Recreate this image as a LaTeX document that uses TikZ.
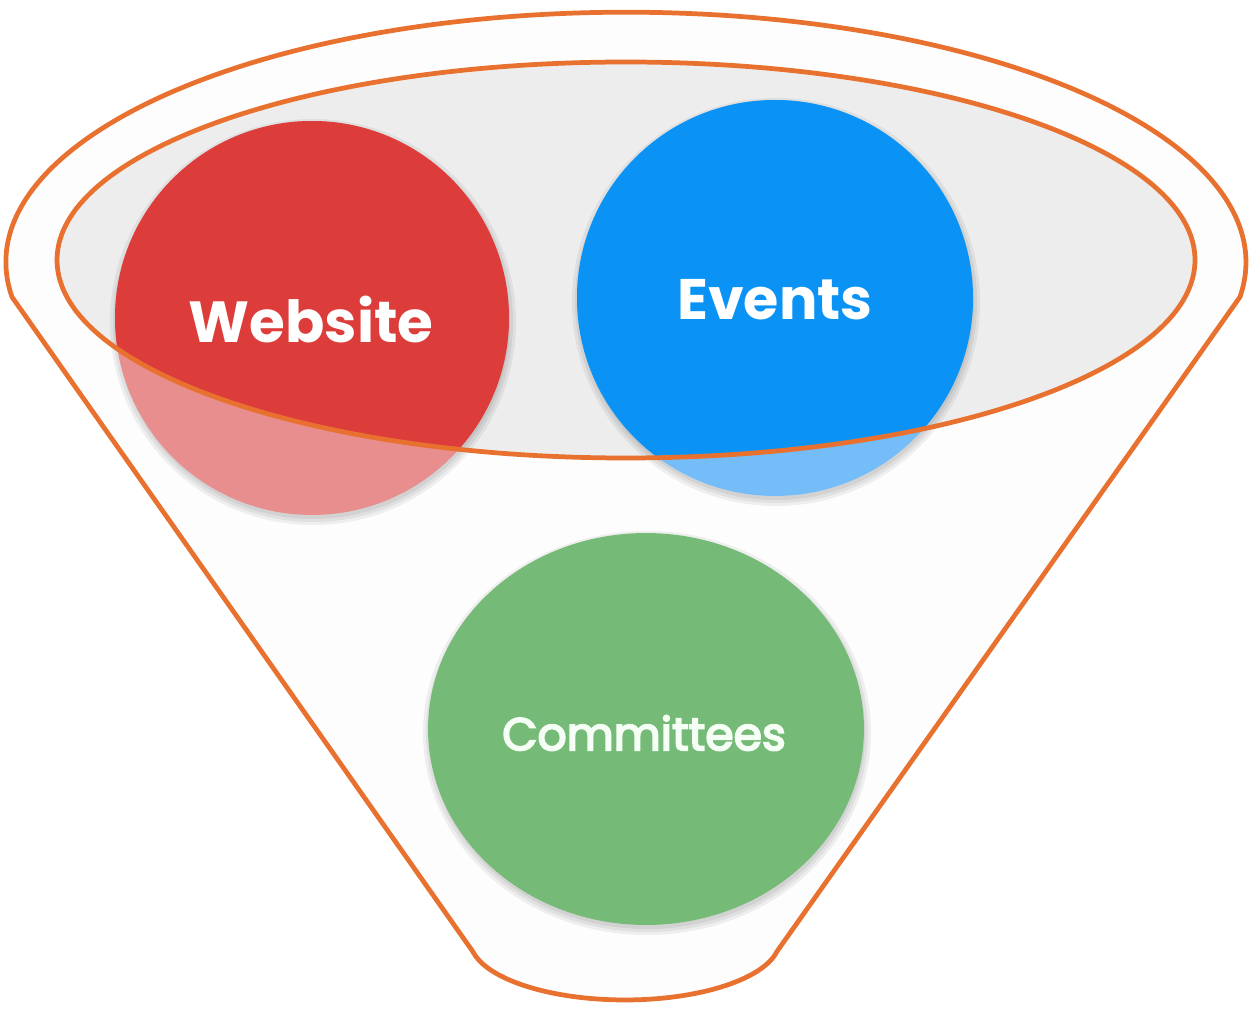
\documentclass[tikz,border=0pt]{standalone}
\usepackage{fontspec}
\setmainfont{Poppins}
\newfontfamily\midweight{Poppins}[FakeBold=4]
\usetikzlibrary{shapes.geometric}
\definecolor{funnelorange}{HTML}{E8712F}
\definecolor{innergray}{HTML}{EDEDED}
\definecolor{webdark}{HTML}{DC3C3A}
\definecolor{weblight}{HTML}{E98E8E}
\definecolor{evtdark}{HTML}{0A93F5}
\definecolor{evtlight}{HTML}{74BDF8}
\definecolor{comgreen}{HTML}{75BB77}
\definecolor{funnelfill}{HTML}{FDFDFD}
\tikzset{
  outline/.style={draw=funnelorange, line width=2.7pt},
  bubble/.style={circle, inner sep=0pt, minimum size=#1},
  shade/.style={fill=black, opacity=0.06},
  label/.style={text=white, inner sep=0pt, anchor=center}
}
\begin{document}
\begin{tikzpicture}[x=0.02cm, y=0.02cm]
\useasboundingbox (0,0) rectangle (1250,1008);
% funnel body
\coordinate (cl) at (12,711);
\coordinate (br) at (777,56.6);
\path[outline, fill=funnelfill]
  (cl) arc[start angle=188, end angle=-8, x radius=620, y radius=250]
  -- (br) arc[start angle=-11, end angle=-169, x radius=155, y radius=60] -- cycle;
% inner rim
\fill[innergray] (626,748) ellipse[x radius=569, y radius=198];
% shadows
\foreach \d in {0,3,6} {
  \fill[shade] (313,686) circle[radius=197+\d];
  \fill[shade] (776,706) circle[radius=198+\d];
  \fill[shade] (647,275) ellipse[x radius=218+\d, y radius=196+\d];
}
% bubbles (lower, lighter parts)
\node[bubble=7.88cm, fill=weblight] (web) at (312,690) {};
\node[bubble=7.92cm, fill=evtlight] (evt) at (775,710) {};
\node[ellipse, inner sep=0pt, minimum width=8.72cm, minimum height=7.84cm, fill=comgreen] (com) at (646,279) {};
% parts inside the rim
\begin{scope}
  \clip (626,748) ellipse[x radius=569, y radius=198];
  \fill[webdark] (web.center) circle[radius=197];
  \fill[evtdark] (evt.center) circle[radius=198];
\end{scope}
\draw[outline] (626,748) ellipse[x radius=569, y radius=198];
% labels
\node[label, font=\bfseries\fontsize{33}{35}\selectfont] (tweb) at (311,688) {Website};
\node[label, font=\bfseries\fontsize{32.5}{35}\selectfont] (tevt) at (775,708) {Events};
\node[label, text=white!96!green, font=\midweight\fontsize{26}{28}\selectfont] (tcom) at (644,275) {Committees};
\end{tikzpicture}
\end{document}
